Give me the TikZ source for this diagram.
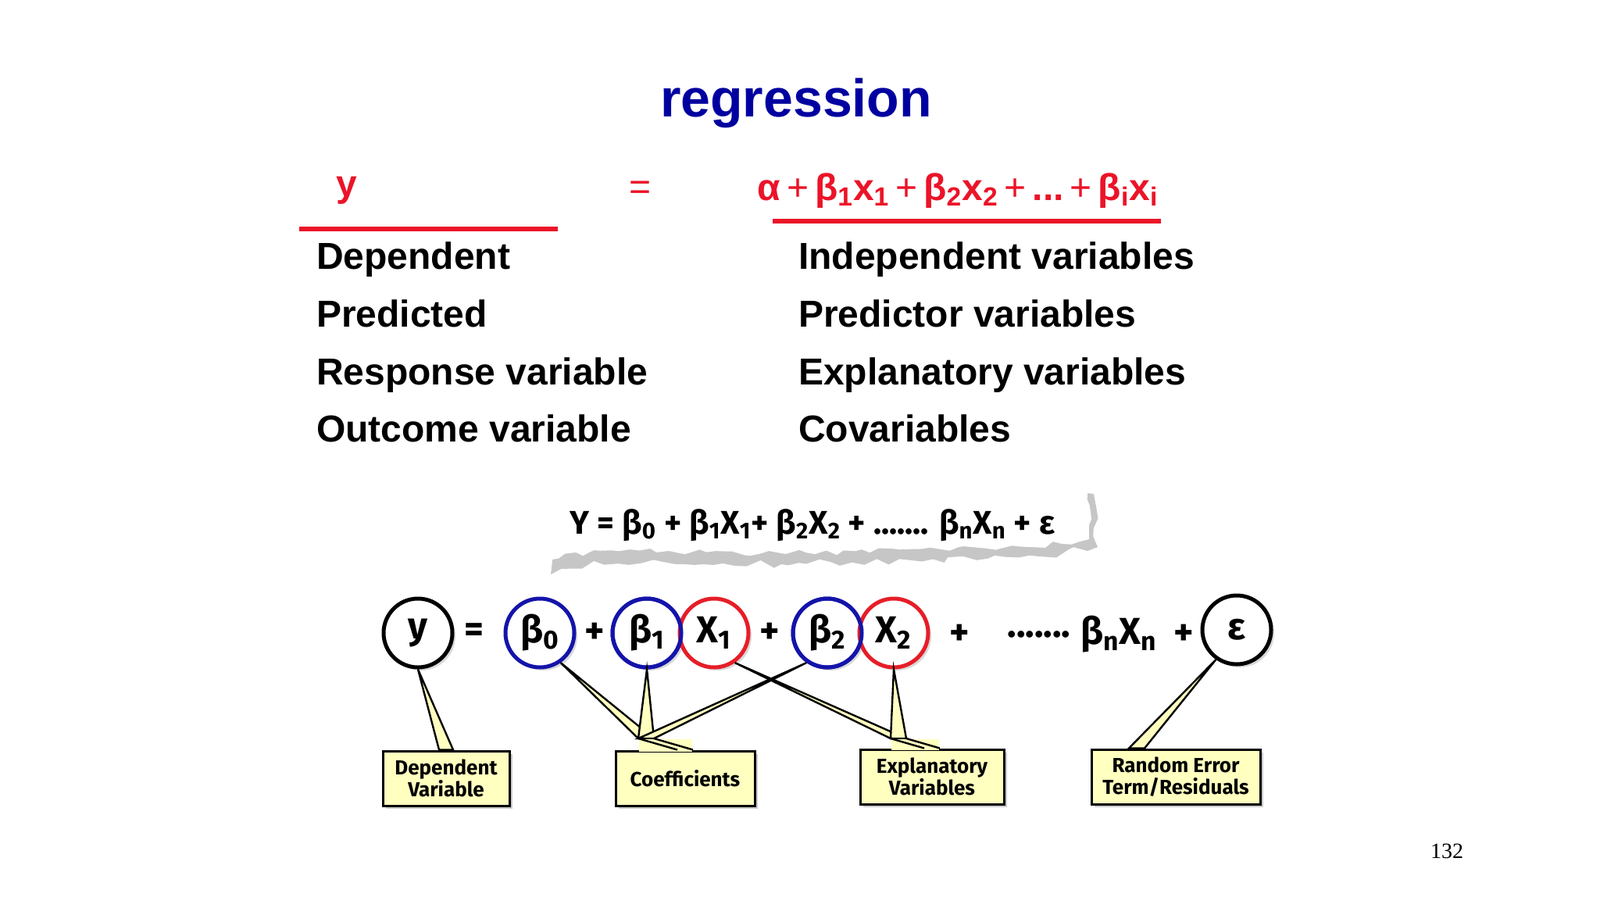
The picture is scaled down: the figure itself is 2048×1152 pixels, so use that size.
\documentclass[tikz,border=0pt]{standalone}
\usepackage{fontspec}
\setmainfont{Liberation Sans}
\newfontfamily\dgfont{Fira Sans}
\newfontfamily\serfont{Liberation Serif}
\usetikzlibrary{decorations.pathmorphing,shadows}
\definecolor{ttl}{RGB}{0,0,160}
\definecolor{rd}{RGB}{235,20,40}
\definecolor{cb}{RGB}{20,20,170}
\definecolor{cr}{RGB}{230,30,40}
\definecolor{yl}{RGB}{255,255,192}
\begin{document}
\begin{tikzpicture}[x=0.5pt,y=-0.5pt,
  body/.style={anchor=base west,font=\fontsize{24}{28}\selectfont\bfseries},
  circ/.style={circle,draw,line width=2.5pt,minimum size=44pt,inner sep=0,font=\dgfont\fontsize{24}{26}\selectfont\bfseries,fill=white,drop shadow={shadow xshift=2pt,shadow yshift=-2pt,opacity=0.3}},
  op/.style={font=\dgfont\fontsize{24}{26}\selectfont\bfseries},
  callbox/.style={draw,line width=1.5pt,fill=yl,align=center,font=\dgfont\fontsize{13}{14}\selectfont\bfseries,inner sep=2pt,drop shadow={shadow xshift=2pt,shadow yshift=-2pt,opacity=0.4}},
  ptr/.style={draw,line width=1.2pt,fill=yl}]
\useasboundingbox (0,0) rectangle (2048,1152);
\node[font=\fontsize{34}{38}\selectfont\bfseries,text=ttl] (title) at (1019,132) {regression};
\node[font=\fontsize{24}{28}\selectfont\bfseries,text=rd] (yv) at (444,244) {y};
\node[font=\fontsize{24}{28}\selectfont,text=rd] (eq) at (820,244) {=};
\node[font=\fontsize{24}{28}\selectfont\bfseries,text=rd] (rhs) at (1226,244) {α\,{\mdseries +}\,β\textsubscript{1}x\textsubscript{1}\,{\mdseries +}\,β\textsubscript{2}x\textsubscript{2}\,{\mdseries +}\,...\,{\mdseries +}\,β\textsubscript{i}x\textsubscript{i}};
\coordinate (l1) at (383,293); \coordinate (l2) at (714,293);
\coordinate (r1) at (989,283); \coordinate (r2) at (1486,283);
\draw[rd,line width=3pt] (l1) -- (l2);
\draw[rd,line width=3pt] (r1) -- (r2);
\node[body] (d1) at (398,344) {Dependent};
\node[body] (d2) at (398,418) {Predicted};
\node[body] (d3) at (398,492) {Response variable};
\node[body] (d4) at (398,565) {Outcome variable};
\node[body] (i1) at (1015,344) {Independent variables};
\node[body] (i2) at (1015,418) {Predictor variables};
\node[body] (i3) at (1015,492) {Explanatory variables};
\node[body] (i4) at (1015,565) {Covariables};
% torn paper
\fill[gray!45,decorate,decoration={random steps,segment length=7pt,amplitude=2.5pt}]
  (700,645) -- (1400,632) -- (1405,700) -- (1330,712) -- (1000,722) -- (760,718) -- (705,735) -- cycle;
\fill[white,decorate,decoration={random steps,segment length=6pt,amplitude=2pt}]
  (690,636) -- (1392,626) -- (1394,690) -- (1320,700) -- (1000,708) -- (760,704) -- (696,718) -- cycle;
\node[font=\dgfont\fontsize{21}{24}\selectfont\bfseries] (form) at (1040,672) {Y = β\textsubscript{0} + β\textsubscript{1}X\textsubscript{1}+ β\textsubscript{2}X\textsubscript{2} + ....... β\textsubscript{n}X\textsubscript{n} + ε};
\node[callbox,minimum width=81pt,minimum height=35pt] (bd) at (571,996) {Dependent\\Variable};
\node[callbox,minimum width=89pt,minimum height=35pt] (bc) at (877,996) {Coefficients};
\node[callbox,minimum width=92pt,minimum height=35pt] (be) at (1193,994) {Explanatory\\Variables};
\node[callbox,minimum width=108pt,minimum height=35pt] (br) at (1505,994) {Random Error\\Term/Residuals};
\node[circ] (cy) at (535,810) {y};
\node[circ,draw=cb] (cb0) at (691,810) {β\textsubscript{0}};
\node[circ,draw=cb] (cb1) at (828,810) {β\textsubscript{1}};
\node[circ,draw=cr] (cx1) at (914,810) {X\textsubscript{1}};
\node[circ,draw=cb] (cb2) at (1059,810) {β\textsubscript{2}};
\node[circ,draw=cr] (cx2) at (1144,810) {X\textsubscript{2}};
\node[circ] (ce) at (1583,806) {ε};
\draw[cb,line width=2.5pt] (cb1) circle[radius=44];
\draw[cb,line width=2.5pt] (cb2) circle[radius=44];
\node[op] (o1) at (607,810) {=};
\node[op] (o2) at (761,810) {+};
\node[op] (o3) at (985,810) {+};
\node[op] (o4) at (1228,812) {+};
\node[op] (o5) at (1330,812) {.......};
\node[op] (o6) at (1432,812) {β\textsubscript{n}X\textsubscript{n}};
\node[op] (o7) at (1515,812) {+};
\coordinate (pc) at (827,945);
\coordinate (pe) at (1150,945);
\path[ptr] (cy.270) -- ([xshift=-4.5pt]bd.north) -- ([xshift=4.5pt]bd.north) -- cycle;
\path[ptr] (cb0.-55) -- ([xshift=-5pt]pc) -- ([xshift=5pt]pc) -- cycle;
\path[ptr] (cb1.-90) -- ([xshift=-5pt]pc) -- ([xshift=5pt]pc) -- cycle;
\path[ptr] (cb2.-125) -- ([xshift=-5pt]pc) -- ([xshift=5pt]pc) -- cycle;
\path[ptr] (cx1.-55) -- ([xshift=-5pt]pe) -- ([xshift=5pt]pe) -- cycle;
\path[ptr] (cx2.-90) -- ([xshift=-5pt]pe) -- ([xshift=5pt]pe) -- cycle;
\path[ptr] (ce.-125) -- ([xshift=-30pt]br.north) -- ([xshift=-20pt]br.north) -- cycle;
\fill[yl] ([xshift=-4.7pt,yshift=-0.5pt]pc) rectangle ([xshift=4.7pt,yshift=-1pt]bc.north);
\fill[yl] ([xshift=-4.7pt,yshift=-0.5pt]pe) rectangle ([xshift=4.7pt,yshift=-1pt]be.north);
\draw[line width=1.2pt] ([xshift=-5pt]pc) -- ([xshift=-5pt]bc.north) ([xshift=5pt]pc) -- ([xshift=5pt]bc.north);
\draw[line width=1.2pt] ([xshift=-5pt]pe) -- ([xshift=-5pt]be.north) ([xshift=5pt]pe) -- ([xshift=5pt]be.north);
\node[font=\serfont\fontsize{14}{16}\selectfont] (pg) at (1852,1089) {132};
\end{tikzpicture}
\end{document}
